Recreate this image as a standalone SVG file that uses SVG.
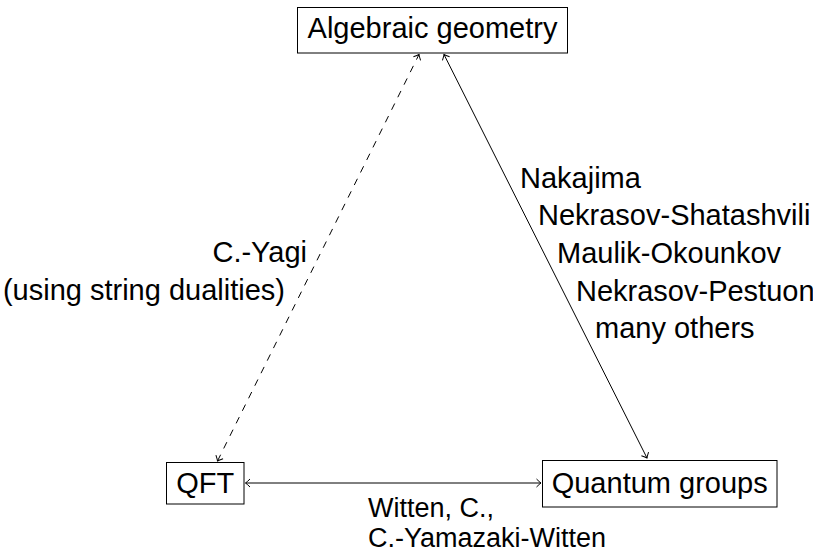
<svg xmlns="http://www.w3.org/2000/svg" width="813" height="554" viewBox="0 0 813 554">
<defs>
<style>
.box{fill:#fff;stroke:#000;stroke-width:1}
.t{font-family:"Liberation Sans",Arial,sans-serif;font-size:29px;fill:#000}
.s{font-size:27px}
.e{fill:none;stroke:#000;stroke-width:1}
.d{stroke-dasharray:7 7}
</style>
<marker id="ah" viewBox="-6 -6 8 12" markerWidth="8" markerHeight="12" refX="0" refY="0" orient="auto-start-reverse" markerUnits="userSpaceOnUse">
<path d="M-4.5,-4 Q-1.5,-1 0,0 Q-1.5,1 -4.5,4" fill="none" stroke="#000" stroke-width="1"/>
</marker>
</defs>
<rect width="813" height="554" fill="#fff"/>
<g id="connectors">
<path class="e d" d="M217.5,461 L419,54.5" marker-start="url(#ah)" marker-end="url(#ah)"/>
<path class="e" d="M444,54.5 L647,458" marker-start="url(#ah)" marker-end="url(#ah)"/>
<path class="e" d="M245.5,483 L541,483" marker-start="url(#ah)" marker-end="url(#ah)"/>
</g>
<g id="n-alg">
<rect class="box" x="297.5" y="7.5" width="270" height="45.5"/>
<text class="t" x="432.5" y="38" text-anchor="middle">Algebraic geometry</text>
</g>
<g id="n-qft">
<rect class="box" x="166.5" y="462.5" width="77.5" height="41.5"/>
<text class="t" x="205.2" y="493" text-anchor="middle">QFT</text>
</g>
<g id="n-qg">
<rect class="box" x="542.5" y="460.5" width="234.5" height="46.5"/>
<text class="t" x="659.7" y="493" text-anchor="middle">Quantum groups</text>
</g>
<g id="labels">
<text class="t" x="307" y="262" text-anchor="end">C.-Yagi</text>
<text class="t" x="285" y="300" text-anchor="end">(using string dualities)</text>
<text class="t" x="520" y="188">Nakajima</text>
<text class="t" x="538" y="225">Nekrasov-Shatashvili</text>
<text class="t" x="557" y="263">Maulik-Okounkov</text>
<text class="t" x="576" y="301">Nekrasov-Pestuon</text>
<text class="t" x="595" y="338">many others</text>
<text class="t s" x="368" y="517">Witten, C.,</text>
<text class="t s" x="368" y="547">C.-Yamazaki-Witten</text>
</g>
</svg>
